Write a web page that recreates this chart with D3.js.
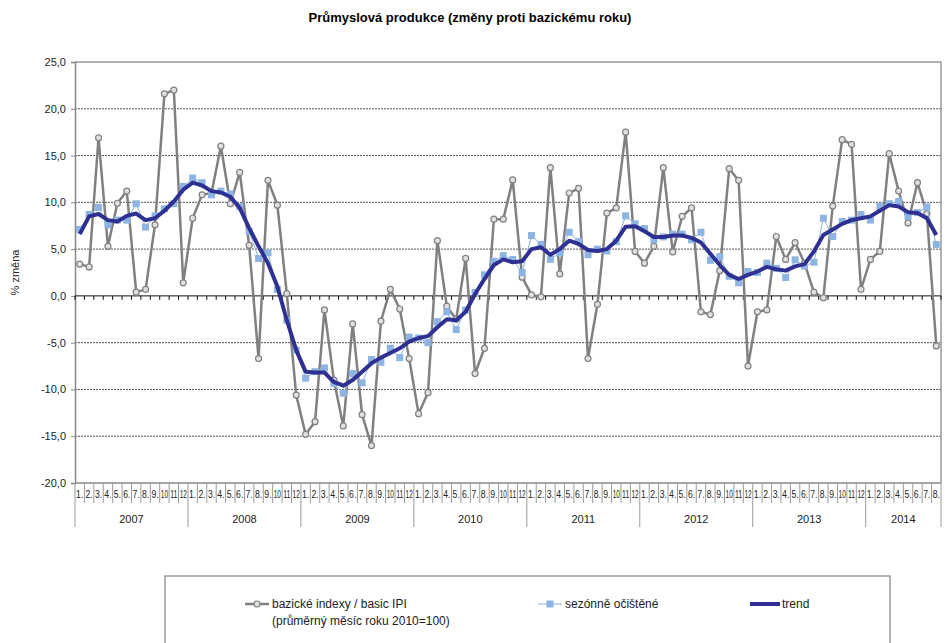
<!DOCTYPE html>
<html>
<head>
<meta charset="utf-8">
<script src="https://cdn.jsdelivr.net/npm/d3@7"></script>
<style>
  body { margin: 0; background: #fff; }
  svg { display: block; font-family: "Liberation Sans", Arial, sans-serif; }
</style>
</head>
<body>
<div id="chart"></div>
<script>
// month labels and years of the category axis
const months = ["1.","2.","3.","4.","5.","6.","7.","8.","9.","10","11","12"];
const years = ["2007","2008","2009","2010","2011","2012","2013","2014"];

// basic IPI, year-on-year change vs base year (%)
const basic = [
  3.4, 3.1, 16.9, 5.3, 9.9, 11.2, 0.4, 0.7, 7.6, 21.6, 22.0, 1.4,
  8.3, 10.8, 11.0, 16.0, 9.85, 13.2, 5.4, -6.7, 12.35, 9.7, 0.25, -10.6,
  -14.8, -13.45, -1.5, -9.0, -13.9, -3.0, -12.7, -16.0, -2.7, 0.7, -1.4, -6.7,
  -12.6, -10.35, 5.9, -1.1, -2.5, 4.0, -8.3, -5.6, 8.2, 8.2, 12.4, 2.0,
  0.1, -0.1, 13.7, 2.35, 11.0, 11.5, -6.7, -0.9, 8.85, 9.4, 17.5, 4.75,
  3.5, 5.3, 13.7, 4.7, 8.5, 9.4, -1.7, -2.0, 2.7, 13.6, 12.35, -7.5,
  -1.7, -1.5, 6.35, 3.9, 5.7, 3.5, 0.4, -0.2, 9.6, 16.7, 16.2, 0.7,
  3.9, 4.75, 15.2, 11.2, 7.8, 12.1, 8.8, -5.35
];

// seasonally adjusted
const seasonal = [
  7.1, 8.7, 9.45, 7.6, 8.1, 8.1, 9.85, 7.35, 8.55, 9.3, 9.85, 11.7,
  12.6, 12.1, 10.8, 11.2, 10.9, 9.55, 6.9, 4.0, 4.6, 0.7, -2.6, -5.8,
  -8.8, -8.1, -7.7, -9.35, -10.4, -8.3, -9.3, -6.8, -7.1, -5.6, -6.6, -4.4,
  -4.5, -5.0, -2.75, -1.7, -3.6, -1.5, 0.36, 2.25, 3.7, 4.3, 3.9, 2.5,
  6.45, 5.5, 3.9, 4.6, 6.8, 5.8, 4.4, 5.0, 4.8, 5.8, 8.55, 7.7,
  7.2, 6.0, 6.3, 6.6, 6.6, 6.0, 6.8, 3.8, 4.2, 2.1, 1.4, 2.6,
  2.5, 3.5, 2.95, 1.96, 3.85, 3.2, 3.6, 8.3, 6.35, 7.95, 8.1, 8.7,
  8.1, 9.55, 9.85, 10.1, 8.5, 8.9, 9.5, 5.5
];

// trend
const trend = [
  6.6, 8.5, 8.75, 8.1, 7.95, 8.55, 8.8, 8.1, 8.3, 9.1, 10.1, 11.35,
  12.1, 11.8, 11.2, 11.05, 10.6, 9.4, 7.25, 5.3, 3.5, 1.0, -2.6, -5.8,
  -8.1, -8.2, -8.2, -9.2, -9.6, -9.0, -8.1, -7.2, -6.6, -6.1, -5.6, -4.9,
  -4.5, -4.3, -3.35, -2.5, -2.6, -1.7, 0.2, 1.8, 3.3, 3.9, 3.6, 3.7,
  5.0, 5.2, 4.4, 5.0, 5.9, 5.55, 4.9, 4.8, 5.0, 5.9, 7.4, 7.45,
  6.9, 6.3, 6.3, 6.45, 6.45, 6.2, 5.7, 4.5, 3.3, 2.25, 1.8, 2.25,
  2.6, 3.1, 2.85, 2.7, 3.15, 3.4, 4.75, 6.5, 7.1, 7.7, 8.1, 8.3,
  8.5, 9.1, 9.7, 9.55, 8.95, 8.85, 8.3, 6.5
];

const yTicks = [-20, -15, -10, -5, 0, 5, 10, 15, 20, 25];

const W = 945, H = 643;
const plotL = 75, plotR = 941, plotT = 62, plotB = 483;

const svg = d3.select('#chart').append('svg')
    .attr('width', W)
    .attr('height', H);

const n = basic.length;
const x = d3.scaleBand().domain(d3.range(n)).range([plotL, plotR]).padding(0);
const y = d3.scaleLinear([-20, 25], [plotB, plotT]);
const bw = x.bandwidth();
const cx = i => x(i) + bw / 2;

// title
svg.append('text')
    .attr('x', 470).attr('y', 22)
    .attr('text-anchor', 'middle')
    .style('font-weight', 'bold').style('font-size', '13px')
    .text('Průmyslová produkce (změny proti bazickému roku)');

// gridlines
svg.append('g').selectAll('line')
    .data(yTicks.filter(d => d !== 0 && d !== -20 && d !== 25))
    .join('line')
    .attr('x1', plotL).attr('x2', plotR)
    .attr('y1', d => y(d)).attr('y2', d => y(d))
    .attr('stroke', '#555').attr('stroke-dasharray', '2,1').attr('stroke-width', 1);

// plot border top/right
svg.append('path')
    .attr('d', `M${plotL},${plotT}H${plotR}V${plotB}`)
    .attr('fill', 'none').attr('stroke', '#999').attr('stroke-width', 1.5);

// y axis
const axisY = svg.append('g')
    .attr('transform', `translate(${plotL},0)`)
    .call(d3.axisLeft(y).tickValues(yTicks).tickSize(4)
        .tickFormat(d => d3.format('.1f')(d).replace('.', ',').replace('−', '-')));
axisY.select('.domain').attr('stroke', '#888').attr('stroke-width', 1.5);
axisY.selectAll('.tick line').attr('stroke', '#888');
axisY.selectAll('.tick text')
    .attr('x', -9)
    .style('font-size', '11px').style('font-family', '"Liberation Sans", Arial, sans-serif')
    .attr('fill', '#222');

svg.append('text')
    .attr('transform', `translate(19,${(plotT + plotB) / 2}) rotate(-90)`)
    .attr('text-anchor', 'middle')
    .style('font-size', '11px').attr('fill', '#222')
    .text('% změna');

// zero line with category ticks
svg.append('line')
    .attr('x1', plotL).attr('x2', plotR)
    .attr('y1', y(0)).attr('y2', y(0))
    .attr('stroke', '#111').attr('stroke-width', 1);
svg.append('g').selectAll('line')
    .data(d3.range(n + 1))
    .join('line')
    .attr('x1', i => plotL + i * bw).attr('x2', i => plotL + i * bw)
    .attr('y1', y(0)).attr('y2', y(0) + 4)
    .attr('stroke', '#111');

// bottom axis: month row + year row
const monthRow = 503, yearRow = 527;
svg.append('line')
    .attr('x1', plotL).attr('x2', plotR)
    .attr('y1', plotB).attr('y2', plotB)
    .attr('stroke', '#888').attr('stroke-width', 1.5);
svg.append('g').selectAll('line')
    .data(d3.range(n + 1))
    .join('line')
    .attr('x1', i => plotL + i * bw).attr('x2', i => plotL + i * bw)
    .attr('y1', plotB)
    .attr('y2', i => (i % 12 === 0 || i === n) ? yearRow : monthRow)
    .attr('stroke', '#999').attr('stroke-width', 1);
svg.append('g').selectAll('text')
    .data(d3.range(n))
    .join('text')
    .attr('x', i => cx(i)).attr('y', 498)
    .attr('text-anchor', 'middle')
    .style('font-size', '10px').attr('fill', '#222')
    .attr('textLength', bw - 2.2).attr('lengthAdjust', 'spacingAndGlyphs')
    .text(i => months[i % 12]);
svg.append('g').selectAll('text')
    .data(years)
    .join('text')
    .attr('x', (d, k) => {
        const a = k * 12, b = Math.min(k * 12 + 12, n);
        return plotL + (a + b) / 2 * bw;
    })
    .attr('y', 523)
    .attr('text-anchor', 'middle')
    .style('font-size', '11px').attr('fill', '#222')
    .text(d => d);

// series
const line = d3.line().x((d, i) => cx(i)).y(d => y(d));

svg.append('path')
    .attr('d', line(basic))
    .attr('fill', 'none').attr('stroke', '#808080').attr('stroke-width', 2.5);
svg.append('g').selectAll('circle')
    .data(basic)
    .join('circle')
    .attr('cx', (d, i) => cx(i)).attr('cy', d => y(d)).attr('r', 3)
    .attr('fill', '#e0e0e0').attr('stroke', '#808080').attr('stroke-width', 1.2);

svg.append('path')
    .attr('d', line(seasonal))
    .attr('fill', 'none').attr('stroke', '#8db4e2').attr('stroke-width', 1);
svg.append('g').selectAll('rect')
    .data(seasonal)
    .join('rect')
    .attr('x', (d, i) => cx(i) - 3.5).attr('y', d => y(d) - 3.5)
    .attr('width', 7).attr('height', 7)
    .attr('fill', '#8db4e2');

svg.append('path')
    .attr('d', line(trend))
    .attr('fill', 'none').attr('stroke', '#2e3192').attr('stroke-width', 4)
    .attr('stroke-linejoin', 'round');

// legend
const legend = svg.append('g');
legend.append('rect')
    .attr('x', 165).attr('y', 576).attr('width', 725).attr('height', 90)
    .attr('fill', '#fff').attr('stroke', '#999').attr('stroke-width', 1.5);

const legY = 604;
// basic
legend.append('line').attr('x1', 245).attr('x2', 269).attr('y1', legY).attr('y2', legY)
    .attr('stroke', '#808080').attr('stroke-width', 2.5);
legend.append('circle').attr('cx', 257).attr('cy', legY).attr('r', 3)
    .attr('fill', '#e0e0e0').attr('stroke', '#808080').attr('stroke-width', 1.2);
legend.append('text').attr('x', 272).attr('y', legY + 4)
    .style('font-size', '12px').attr('fill', '#222')
    .text('bazické indexy / basic IPI');
legend.append('text').attr('x', 272).attr('y', legY + 21)
    .style('font-size', '12px').attr('fill', '#222')
    .text('(průměrný měsíc roku 2010=100)');
// seasonal
legend.append('line').attr('x1', 538).attr('x2', 562).attr('y1', legY).attr('y2', legY)
    .attr('stroke', '#8db4e2').attr('stroke-width', 1);
legend.append('rect').attr('x', 546.5).attr('y', legY - 3.5).attr('width', 7).attr('height', 7)
    .attr('fill', '#8db4e2');
legend.append('text').attr('x', 565).attr('y', legY + 4)
    .style('font-size', '12px').attr('fill', '#222')
    .text('sezónně očištěné');
// trend
legend.append('line').attr('x1', 750).attr('x2', 780).attr('y1', legY).attr('y2', legY)
    .attr('stroke', '#2e3192').attr('stroke-width', 4);
legend.append('text').attr('x', 782).attr('y', legY + 4)
    .style('font-size', '12px').attr('fill', '#222')
    .text('trend');
</script>
</body>
</html>
